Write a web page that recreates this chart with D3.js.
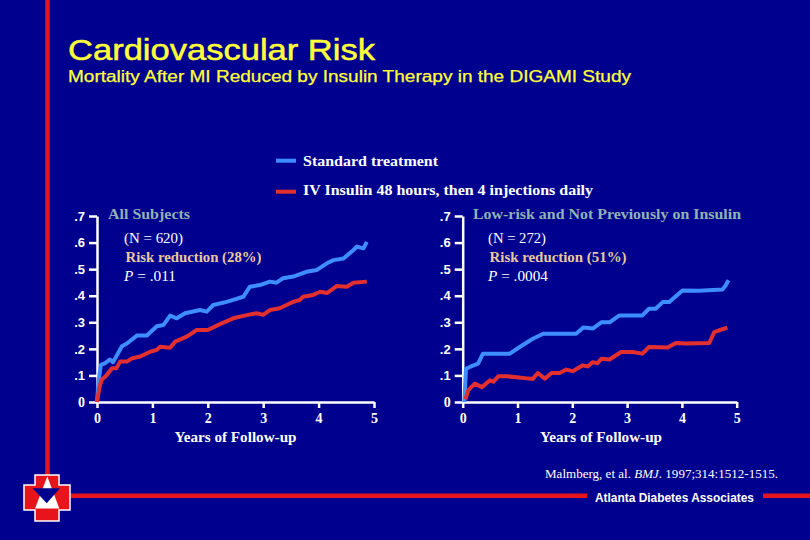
<!DOCTYPE html>
<html>
<head>
<meta charset="utf-8">
<script src="https://cdn.jsdelivr.net/npm/d3@7"></script>
<style>
  html, body { margin: 0; padding: 0; background: #00008f; }
  svg { display: block; }
</style>
</head>
<body>
<svg id="chart" width="810" height="540"></svg>
<script>
// ---------------- DATA ----------------
const titleText = "Cardiovascular Risk";
const subtitleText = "Mortality After MI Reduced by Insulin Therapy in the DIGAMI Study";
const seriesNames = ["Standard treatment", "IV Insulin 48 hours, then 4 injections daily"];
const yTickValues = [0, 0.1, 0.2, 0.3, 0.4, 0.5, 0.6, 0.7];
const yTickLabels = ["0", ".1", ".2", ".3", ".4", ".5", ".6", ".7"];
const xTickValues = [0, 1, 2, 3, 4, 5];
const xAxisTitle = "Years of Follow-up";

const panelTitles = ["All Subjects", "Low-risk and Not Previously on Insulin"];
const panelN = ["(N = 620)", "(N = 272)"];
const panelReduction = ["Risk reduction (28%)", "Risk reduction (51%)"];
const panelP = [".011", ".0004"];

// All subjects – standard treatment
const allStdYears = [0, 0.03, 0.07, 0.14, 0.23, 0.29, 0.45, 0.54, 0.72, 0.9, 1.08, 1.2, 1.32, 1.44, 1.59, 1.86, 1.98, 2.1, 2.34, 2.64, 2.76, 2.94, 3.12, 3.24, 3.36, 3.54, 3.78, 3.97, 4.15, 4.27, 4.45, 4.63, 4.69, 4.81, 4.87];
const allStdRisk  = [0, 0.08, 0.14, 0.145, 0.16, 0.15, 0.21, 0.22, 0.25, 0.25, 0.285, 0.29, 0.325, 0.315, 0.334, 0.346, 0.34, 0.365, 0.377, 0.396, 0.434, 0.44, 0.453, 0.449, 0.466, 0.472, 0.49, 0.497, 0.522, 0.534, 0.54, 0.572, 0.585, 0.578, 0.603];
// All subjects – insulin
const allInsYears = [0, 0.04, 0.08, 0.17, 0.27, 0.35, 0.42, 0.54, 0.63, 0.78, 0.96, 1.08, 1.14, 1.32, 1.41, 1.62, 1.8, 2.0, 2.22, 2.46, 2.7, 2.88, 3.0, 3.12, 3.3, 3.42, 3.54, 3.66, 3.72, 3.9, 4.03, 4.15, 4.27, 4.33, 4.51, 4.63, 4.87];
const allInsRisk  = [0, 0.05, 0.083, 0.10, 0.127, 0.127, 0.152, 0.152, 0.164, 0.171, 0.189, 0.196, 0.208, 0.204, 0.227, 0.246, 0.271, 0.271, 0.293, 0.315, 0.327, 0.334, 0.328, 0.346, 0.353, 0.365, 0.377, 0.384, 0.396, 0.403, 0.415, 0.41, 0.428, 0.437, 0.434, 0.449, 0.453];
// Low-risk – standard treatment
const lowStdYears = [0.03, 0.06, 0.13, 0.28, 0.37, 0.86, 1.04, 1.28, 1.47, 2.07, 2.2, 2.38, 2.53, 2.68, 2.86, 3.28, 3.4, 3.52, 3.65, 3.77, 4.01, 4.31, 4.74, 4.8, 4.85];
const lowStdRisk  = [0, 0.125, 0.132, 0.144, 0.182, 0.182, 0.207, 0.238, 0.257, 0.257, 0.28, 0.277, 0.30, 0.30, 0.326, 0.326, 0.351, 0.351, 0.376, 0.376, 0.42, 0.419, 0.423, 0.439, 0.458];
// Low-risk – insulin
const lowInsYears = [0.05, 0.1, 0.22, 0.35, 0.5, 0.56, 0.65, 0.8, 1.22, 1.28, 1.37, 1.5, 1.62, 1.77, 1.89, 2.01, 2.19, 2.28, 2.37, 2.46, 2.53, 2.68, 2.89, 3.1, 3.28, 3.4, 3.74, 3.89, 4.07, 4.5, 4.59, 4.68, 4.83];
const lowInsRisk  = [0.01, 0.044, 0.069, 0.056, 0.082, 0.076, 0.097, 0.097, 0.088, 0.087, 0.109, 0.088, 0.109, 0.109, 0.122, 0.116, 0.138, 0.134, 0.15, 0.146, 0.163, 0.16, 0.188, 0.188, 0.182, 0.207, 0.205, 0.222, 0.22, 0.222, 0.263, 0.27, 0.28];

const citationAuthor = "Malmberg, et al. ";
const citationJournal = "BMJ";
const citationRest = ". 1997;314:1512-1515.";
const footerText = "Atlanta Diabetes Associates";

// ---------------- STYLE ----------------
const BG = "#00008f";
const BLUE = "#3f8eff";
const RED = "#e3302e";
const YELLOW = "#ffff3a";
const TEAL = "#90b2b2";
const TAN = "#e8c99c";
const SERIF = "'Liberation Serif', 'Times New Roman', serif";
const SANS = "'Liberation Sans', Arial, sans-serif";

const svg = d3.select("#chart");
svg.append("rect").attr("width", 810).attr("height", 540).attr("fill", BG);

function txt(g, s, x, y, opts) {
  const t = g.append("text").attr("x", x).attr("y", y)
    .attr("fill", opts.fill || "#fff")
    .attr("font-family", opts.family || SERIF)
    .attr("font-size", opts.size || 14)
    .attr("font-weight", opts.weight || "normal")
    .text(s);
  if (opts.len) t.attr("textLength", opts.len).attr("lengthAdjust", "spacingAndGlyphs");
  if (opts.anchor) t.attr("text-anchor", opts.anchor);
  return t;
}

// decorative frame lines
svg.append("line").attr("x1", 47.5).attr("x2", 47.5).attr("y1", 0).attr("y2", 476)
  .attr("stroke", "#e8141c").attr("stroke-width", 4.5);
svg.append("line").attr("x1", 70).attr("x2", 587).attr("y1", 495.8).attr("y2", 495.8)
  .attr("stroke", "#e8141c").attr("stroke-width", 4.5);
svg.append("line").attr("x1", 763).attr("x2", 810).attr("y1", 495.8).attr("y2", 495.8)
  .attr("stroke", "#e8141c").attr("stroke-width", 4.5);

// logo
const logo = svg.append("g");
logo.append("path")
  .attr("d", "M35,475 H59 V485 H70 V510 H59 V521 H35 V510 H24 V485 H35 Z")
  .attr("fill", "#e8141c").attr("stroke", "#fff").attr("stroke-width", 1.5);
logo.append("path").attr("d", "M47.3,476.5 L59.3,508.5 L35,508.5 Z").attr("fill", "#fff");
logo.append("path").attr("d", "M32.7,488.3 L60,488.3 L46.7,503.3 Z").attr("fill", BG);

// titles
txt(svg, titleText, 68, 60, { fill: YELLOW, family: SANS, size: 30, len: 307 })
  .attr("stroke", YELLOW).attr("stroke-width", 0.5);
txt(svg, subtitleText, 68, 82, { fill: YELLOW, family: SANS, size: 16, len: 563 })
  .attr("stroke", YELLOW).attr("stroke-width", 0.25);

// legend
const legendColors = [BLUE, RED];
const legendY = [160.7, 191.7];
const legendTextY = [166, 195];
const legendLen = [135, 290];
seriesNames.forEach((s, i) => {
  svg.append("line").attr("x1", 276).attr("x2", 296).attr("y1", legendY[i]).attr("y2", legendY[i])
    .attr("stroke", legendColors[i]).attr("stroke-width", 4);
  txt(svg, s, 303, legendTextY[i], { size: 15, weight: "bold", len: legendLen[i] });
});

// panels
const panels = [
  { x0: 97, x1: 374, series: [[allStdYears, allStdRisk, BLUE], [allInsYears, allInsRisk, RED]],
    title: { x: 108, len: 82 }, ann: { x: 124 }, axisTitleX: 235.5 },
  { x0: 462.7, x1: 736.7, series: [[lowStdYears, lowStdRisk, BLUE], [lowInsYears, lowInsRisk, RED]],
    title: { x: 473, len: 268 }, ann: { x: 488 }, axisTitleX: 601 }
];
const annLens = [[59, 136, 52], [58, 137, 60]];

panels.forEach((p, pi) => {
  const g = svg.append("g");
  const x = d3.scaleLinear().domain([0, 5]).range([p.x0, p.x1]);
  const y = d3.scaleLinear().domain([0, 0.7]).range([402, 216]);

  // y axis
  const yAxis = d3.axisLeft(y).tickValues(yTickValues)
    .tickFormat((d, i) => yTickLabels[i]).tickSizeInner(8).tickSizeOuter(0).tickPadding(4);
  const ya = g.append("g").attr("transform", `translate(${p.x0},0)`).call(yAxis);
  ya.select(".domain").attr("stroke", "#fff").attr("stroke-width", 2.5);
  ya.selectAll(".tick line").attr("stroke", "#fff").attr("stroke-width", 2.5);
  ya.selectAll(".tick text").attr("fill", "#fff").attr("font-family", SANS)
    .attr("font-size", 13).attr("font-weight", "bold");
  ya.selectAll(".tick text").filter(d => d === 0)
    .attr("font-family", SERIF).attr("font-size", 14);

  // x axis
  const xAxis = d3.axisBottom(x).tickValues(xTickValues).tickFormat(d3.format("d"))
    .tickSizeInner(6).tickSizeOuter(0).tickPadding(5);
  const xa = g.append("g").attr("transform", `translate(0,402)`).call(xAxis);
  xa.select(".domain").attr("stroke", "#fff").attr("stroke-width", 2.5);
  xa.selectAll(".tick line").attr("stroke", "#fff").attr("stroke-width", 2.5);
  xa.selectAll(".tick text").attr("fill", "#fff").attr("font-family", SERIF)
    .attr("font-size", 14).attr("font-weight", "bold");

  txt(g, xAxisTitle, p.axisTitleX, 442, { size: 14, weight: "bold", anchor: "middle", len: 122 });

  // curves
  const line = d3.line().x(d => x(d[0])).y(d => y(d[1]));
  p.series.forEach(([ys, vs, c]) => {
    const pts = ys.map((v, i) => [v, vs[i]]);
    g.append("path").datum(pts).attr("d", line)
      .attr("fill", "none").attr("stroke", c).attr("stroke-width", 4)
      .attr("stroke-linejoin", "round");
  });

  // annotations
  txt(g, panelTitles[pi], p.title.x, 218.5, { fill: TEAL, size: 15, weight: "bold", len: p.title.len });
  txt(g, panelN[pi], p.ann.x, 243, { size: 14, len: annLens[pi][0] });
  txt(g, panelReduction[pi], p.ann.x + 1.5, 262, { fill: TAN, size: 14, weight: "bold", len: annLens[pi][1] });
  const pt = g.append("text").attr("x", p.ann.x).attr("y", 280.5)
    .attr("fill", "#fff").attr("font-family", SERIF).attr("font-size", 14)
    .attr("textLength", annLens[pi][2]).attr("lengthAdjust", "spacingAndGlyphs");
  pt.append("tspan").attr("font-style", "italic").text("P");
  pt.append("tspan").text(" = " + panelP[pi]);
});

// citation
const cit = svg.append("text").attr("x", 545).attr("y", 478)
  .attr("fill", "#fff").attr("font-family", SERIF).attr("font-size", 12.5)
  .attr("textLength", 233).attr("lengthAdjust", "spacingAndGlyphs");
cit.append("tspan").text(citationAuthor);
cit.append("tspan").attr("font-style", "italic").text(citationJournal);
cit.append("tspan").text(citationRest);

txt(svg, footerText, 595, 501.7, { family: SANS, size: 12.5, weight: "bold", len: 159 });
</script>
</body>
</html>
